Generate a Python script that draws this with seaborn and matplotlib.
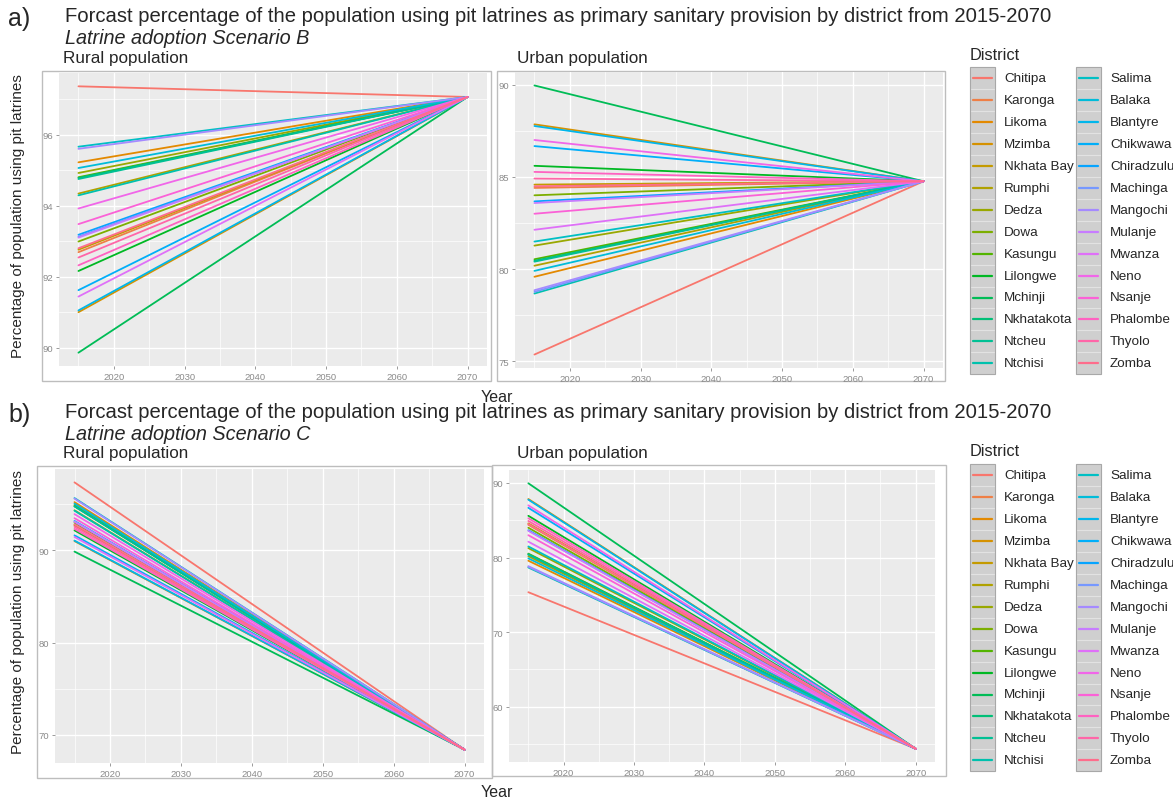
import math

import matplotlib
matplotlib.use("Agg")
import matplotlib.pyplot as plt
from matplotlib.patches import Rectangle
import numpy as np
import pandas as pd
import seaborn as sns

# ---------------------------------------------------------------- data
districts = [
    "Chitipa", "Karonga", "Likoma", "Mzimba", "Nkhata Bay", "Rumphi", "Dedza",
    "Dowa", "Kasungu", "Lilongwe", "Mchinji", "Nkhatakota", "Ntcheu", "Ntchisi",
    "Salima", "Balaka", "Blantyre", "Chikwawa", "Chiradzulu", "Machinga",
    "Mangochi", "Mulanje", "Mwanza", "Neno", "Nsanje", "Phalombe", "Thyolo",
    "Zomba",
]

years = [2015, 2070]

# 2015 baseline (% of population using pit latrines)
rural_2015 = [
    97.36, 92.69, 95.22, 91.00, 92.76, 94.34, 94.92,
    92.99, 94.80, 92.16, 89.86, 94.78, 94.75, 94.29,
    95.66, 95.06, 91.05, 91.62, 93.18, 93.13,
    95.60, 93.10, 91.44, 93.92, 93.48, 92.32, 92.54,
    92.80,
]
urban_2015 = [
    75.36, 84.40, 79.58, 87.85, 84.58, 80.18, 81.27,
    84.00, 80.53, 85.60, 89.96, 80.45, 80.40, 78.67,
    81.49, 79.90, 87.76, 86.67, 83.67, 78.76,
    78.85, 83.58, 82.13, 87.00, 83.00, 85.27, 84.91,
    84.49,
]

# 2070 projected values under each adoption scenario
rural_2070_B = 97.06
urban_2070_B = 84.76
rural_2070_C = 68.40
urban_2070_C = 54.38

x_ticks = [2020, 2030, 2040, 2050, 2060, 2070]

# ---------------------------------------------------------------- colours
def hcl_to_hex(h, c=100.0, l=65.0):
    """Polar CIE-Luv -> sRGB hex (the default ggplot2 hue scale)."""
    hr = math.radians(h)
    u, v = c * math.cos(hr), c * math.sin(hr)
    xn, yn, zn = 95.047, 100.0, 108.883
    un = 4 * xn / (xn + 15 * yn + 3 * zn)
    vn = 9 * yn / (xn + 15 * yn + 3 * zn)
    y = yn * ((l + 16) / 116) ** 3 if l > 8 else yn * l / 903.3
    up = u / (13 * l) + un
    vp = v / (13 * l) + vn
    x = y * 9 * up / (4 * vp)
    z = y * (12 - 3 * up - 20 * vp) / (4 * vp)
    x, y, z = x / 100, y / 100, z / 100
    r = 3.2404542 * x - 1.5371385 * y - 0.4985314 * z
    g = -0.9692660 * x + 1.8760108 * y + 0.0415560 * z
    b = 0.0556434 * x - 0.2040259 * y + 1.0572252 * z

    def gam(t):
        t = t * 12.92 if t <= 0.0031308 else 1.055 * t ** (1 / 2.4) - 0.055
        return min(max(t, 0.0), 1.0)

    return matplotlib.colors.to_hex((gam(r), gam(g), gam(b)))


n = len(districts)
hues = np.linspace(15, 375, n + 1)[:n]
palette = {d: hcl_to_hex(h) for d, h in zip(districts, hues)}


def long_frame(start, end):
    rows = []
    for d, s in zip(districts, start):
        rows.append((d, years[0], s))
        rows.append((d, years[1], end))
    return pd.DataFrame(rows, columns=["District", "Year", "Percent"])


# ---------------------------------------------------------------- figure
W, H = 1173, 803
sns.set_theme(style="white")
plt.rcParams["font.family"] = ["Liberation Sans", "DejaVu Sans"]
fig = plt.figure(figsize=(W / 100, H / 100), dpi=100)
fig.patch.set_facecolor("white")


def rect(l, t, r, b):
    return [l / W, 1 - b / H, (r - l) / W, (b - t) / H]


def fx(x):
    return x / W


def fy(y):
    return 1 - y / H


def frame_box(l, t, r, b):
    fig.add_artist(Rectangle((fx(l), fy(b)), (r - l) / W, (b - t) / H,
                             transform=fig.transFigure, fill=False,
                             edgecolor="#BDBDBD", linewidth=1.0, zorder=0))


def panel(box, grey, start, end, ymajor, yminor):
    frame_box(*box)
    ax = fig.add_axes(rect(*grey))
    ax.set_facecolor("#EBEBEB")
    df = long_frame(start, end)
    sns.lineplot(data=df, x="Year", y="Percent", hue="District",
                 hue_order=districts, palette=palette, linewidth=1.3,
                 legend=False, ax=ax)
    ax.set_xticks(x_ticks)
    ax.set_xticks([2015, 2025, 2035, 2045, 2055, 2065], minor=True)
    ax.set_yticks(ymajor)
    ax.set_yticks(yminor, minor=True)
    ax.grid(True, which="major", color="white", linewidth=1.0)
    ax.grid(True, which="minor", color="white", linewidth=0.5)
    ax.set_axisbelow(True)
    for s in ax.spines.values():
        s.set_visible(False)
    ax.tick_params(which="major", length=2.5, width=0.6, color="#8A8A8A",
                   labelsize=6.8, labelcolor="#8A8A8A", pad=1.5,
                   bottom=True, left=True)
    ax.tick_params(which="minor", length=0)
    ax.set_xlabel("")
    ax.set_ylabel("")
    return ax


# scenario B
panel((42, 72, 491, 382), (59, 74, 487, 367), rural_2015, rural_2070_B,
      [90, 92, 94, 96], [91, 93, 95, 97])
panel((497, 72, 945, 382), (515, 73, 943, 369), urban_2015, urban_2070_B,
      [75, 80, 85, 90], [77.5, 82.5, 87.5])
# scenario C
panel((37, 467, 492, 779), (55, 470, 484, 764), rural_2015, rural_2070_C,
      [70, 80, 90], [75, 85, 95])
panel((492, 466, 946, 777), (509, 471, 935, 763), urban_2015, urban_2070_C,
      [60, 70, 80, 90], [55, 65, 75, 85])

# ---------------------------------------------------------------- text
title = ("Forcast percentage of the population using pit latrines as primary "
         "sanitary provision by district from 2015-2070")
ylab = "Percentage of population using pit latrines"

for off, tag, scen in [(0, "a)", "B"), (396, "b)", "C")]:
    fig.text(fx(8), fy(19 + off), tag, fontsize=18, va="center", ha="left")
    fig.text(fx(65), fy(17 + off), title, fontsize=14.6, va="center", ha="left")
    fig.text(fx(65), fy(38 + off), f"Latrine adoption Scenario {scen}",
             fontsize=14.3, style="italic", va="center", ha="left")
    fig.text(fx(63), fy(58 + off), "Rural population", fontsize=12.3,
             va="center", ha="left")
    fig.text(fx(517), fy(58 + off), "Urban population", fontsize=12.3,
             va="center", ha="left")
    fig.text(fx(18), fy(216 + off), ylab, fontsize=11, rotation=90,
             va="center", ha="center")

fig.text(fx(497), fy(398), "Year", fontsize=11.5, va="center", ha="center")
fig.text(fx(497), fy(793), "Year", fontsize=11.5, va="center", ha="center")

# ---------------------------------------------------------------- legends
row_h = 21.92
for off in (0, 397):
    fig.text(fx(970), fy(55 + off), "District", fontsize=11.8,
             va="center", ha="left")
    for col in range(2):
        kx = 970 + col * 106
        top = 68 + off
        for i in range(14):
            d = districts[col * 14 + i]
            cy = 79.3 + off + i * row_h
            fig.add_artist(Rectangle((fx(kx), fy(cy + row_h / 2)), 25 / W,
                                     row_h / H, transform=fig.transFigure,
                                     facecolor="#CFCFCF", edgecolor="#E2E2E2",
                                     linewidth=0.8))
            fig.add_artist(plt.Line2D([fx(kx + 3), fx(kx + 22)], [fy(cy), fy(cy)],
                                      transform=fig.transFigure,
                                      color=palette[d], linewidth=1.6))
            fig.text(fx(kx + 34), fy(cy), d, fontsize=9.7, va="center",
                     ha="left")
        fig.add_artist(Rectangle((fx(kx), fy(top + 14 * row_h)), 25 / W,
                                 14 * row_h / H, transform=fig.transFigure,
                                 fill=False, edgecolor="#A8A8A8",
                                 linewidth=0.8))

fig.savefig("out.png", dpi=100)
